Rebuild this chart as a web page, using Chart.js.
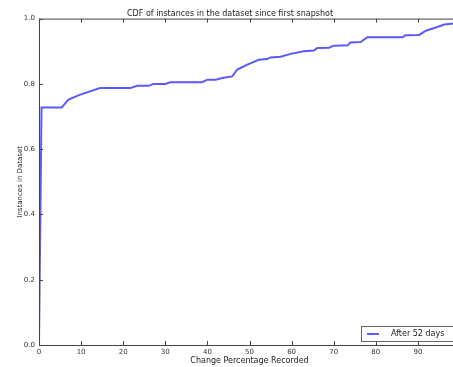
<!DOCTYPE html>
<html>
<head>
<meta charset="utf-8">
<script src="https://cdn.jsdelivr.net/npm/chart.js@4/dist/chart.umd.min.js"></script>
<style>
  html, body { margin: 0; padding: 0; background: #fff; overflow: hidden; }
  #wrap { width: 470px; height: 367px; position: relative; }
</style>
</head>
<body>
<div id="wrap"><canvas id="cdf-canvas"></canvas></div>
<script>
// change percentage (x) and cumulative fraction of instances (y)
const change_pct = [0, 0.6, 5.4, 7.0, 9.8, 14.5, 21.7, 23.3, 26, 27.2, 30, 31.2, 38.7, 40, 42, 43.5, 45.9,
  47.1, 49.5, 52.2, 54.2, 55, 57.4, 59.8, 62.9, 65.3, 66.1, 68.9, 70, 73.3, 74, 76.4, 78, 86.4,
  87.1, 90.3, 91.9, 93.9, 96.3, 98.5, 100];
const instances = [0, 0.728, 0.728, 0.752, 0.767, 0.787, 0.787, 0.794, 0.794, 0.8, 0.8, 0.805, 0.805, 0.813, 0.813, 0.818, 0.823,
  0.844, 0.859, 0.874, 0.876, 0.881, 0.883, 0.892, 0.900, 0.902, 0.910, 0.911, 0.917, 0.918, 0.927, 0.928, 0.943, 0.943,
  0.949, 0.950, 0.963, 0.971, 0.982, 0.985, 0.99];
const x_ticks = [0, 10, 20, 30, 40, 50, 60, 70, 80, 90, 100];
const y_ticks = [0, 0.2, 0.4, 0.6, 0.8, 1.0];
const series_label = 'After 52 days';
const line_color = '#5a5aff';

const font = "'DejaVu Sans', sans-serif";

// matplotlib-ish frame, inward ticks and a boxed legend in the lower right
const framePlugin = {
  id: 'frame',
  afterDraw(chart) {
    const {ctx, chartArea: a, scales} = chart;
    ctx.save();
    ctx.strokeStyle = '#444';
    ctx.lineWidth = 1;
    ctx.strokeRect(a.left + 0.5, a.top + 0.5, a.right - a.left, a.bottom - a.top);
    ctx.beginPath();
    x_ticks.forEach(function(v){
      const px = Math.round(scales.x.getPixelForValue(v)) + 0.5;
      ctx.moveTo(px, a.bottom); ctx.lineTo(px, a.bottom - 4);
      ctx.moveTo(px, a.top); ctx.lineTo(px, a.top + 4);
    });
    y_ticks.forEach(function(v){
      const py = Math.round(scales.y.getPixelForValue(v)) + 0.5;
      ctx.moveTo(a.left, py); ctx.lineTo(a.left + 4, py);
      ctx.moveTo(a.right, py); ctx.lineTo(a.right - 4, py);
    });
    ctx.stroke();

    // legend
    const bx = 361, by = 326, bw = 95, bh = 15;
    ctx.fillStyle = '#fff';
    ctx.fillRect(bx, by, bw, bh);
    ctx.strokeStyle = '#666';
    ctx.strokeRect(bx + 0.5, by + 0.5, bw, bh);
    ctx.strokeStyle = line_color;
    ctx.lineWidth = 2;
    ctx.beginPath();
    ctx.moveTo(bx + 6, by + 8); ctx.lineTo(bx + 18, by + 8);
    ctx.stroke();
    ctx.fillStyle = '#222';
    ctx.font = `8px ${font}`;
    ctx.textBaseline = 'middle';
    ctx.fillText(series_label, bx + 30, by + 8);
    ctx.restore();
  }
};

const ctx = document.getElementById('cdf-canvas');
const myChart = new Chart(ctx, {
  type: 'line',
  data: {
    datasets: [{
      label: series_label,
      data: change_pct.map((x, i) => ({x: x, y: instances[i]})),
      borderColor: line_color,
      borderWidth: 2,
      pointRadius: 0,
      tension: 0,
      fill: false
    }]
  },
  options: {
    responsive: true,
    maintainAspectRatio: false,
    animation: false,
    layout: {
      padding: {left: 0, right: 10, top: 0, bottom: 0}
    },
    scales: {
      x: {
        type: 'linear',
        min: 0,
        max: 100,
        afterBuildTicks: function(scale){ scale.ticks = x_ticks.map(v => ({value: v})); },
        grid: { display: false, drawTicks: false },
        border: { display: false },
        ticks: {
          color: '#333',
          font: { family: font, size: 7 },
          padding: 3,
          maxRotation: 0,
          callback: v => String(v)
        },
        title: {
          display: true,
          text: 'Change Percentage Recorded',
          color: '#222',
          font: { family: font, size: 8 },
          padding: {top: 0, bottom: 1}
        },
        afterFit: function(scale){ scale.height = 22; }
      },
      y: {
        min: 0,
        max: 1,
        afterBuildTicks: function(scale){ scale.ticks = y_ticks.map(v => ({value: v})); },
        grid: { display: false, drawTicks: false },
        border: { display: false },
        ticks: {
          color: '#333',
          font: { family: font, size: 7 },
          padding: 4,
          callback: v => v.toFixed(1)
        },
        title: {
          display: true,
          text: 'Instances in Dataset',
          color: '#222',
          font: { family: font, size: 7 },
          padding: {top: 16, bottom: 0}
        },
        afterFit: function(scale){ scale.width = 39; }
      }
    },
    plugins: {
      legend: { display: false },
      tooltip: { enabled: false },
      title: {
        display: true,
        text: 'CDF of instances in the dataset since first snapshot',
        color: '#222',
        font: { family: font, size: 8, weight: 'normal' },
        padding: {top: 9, bottom: 0}
      }
    }
  },
  plugins: [framePlugin]
});
</script>
</body>
</html>
